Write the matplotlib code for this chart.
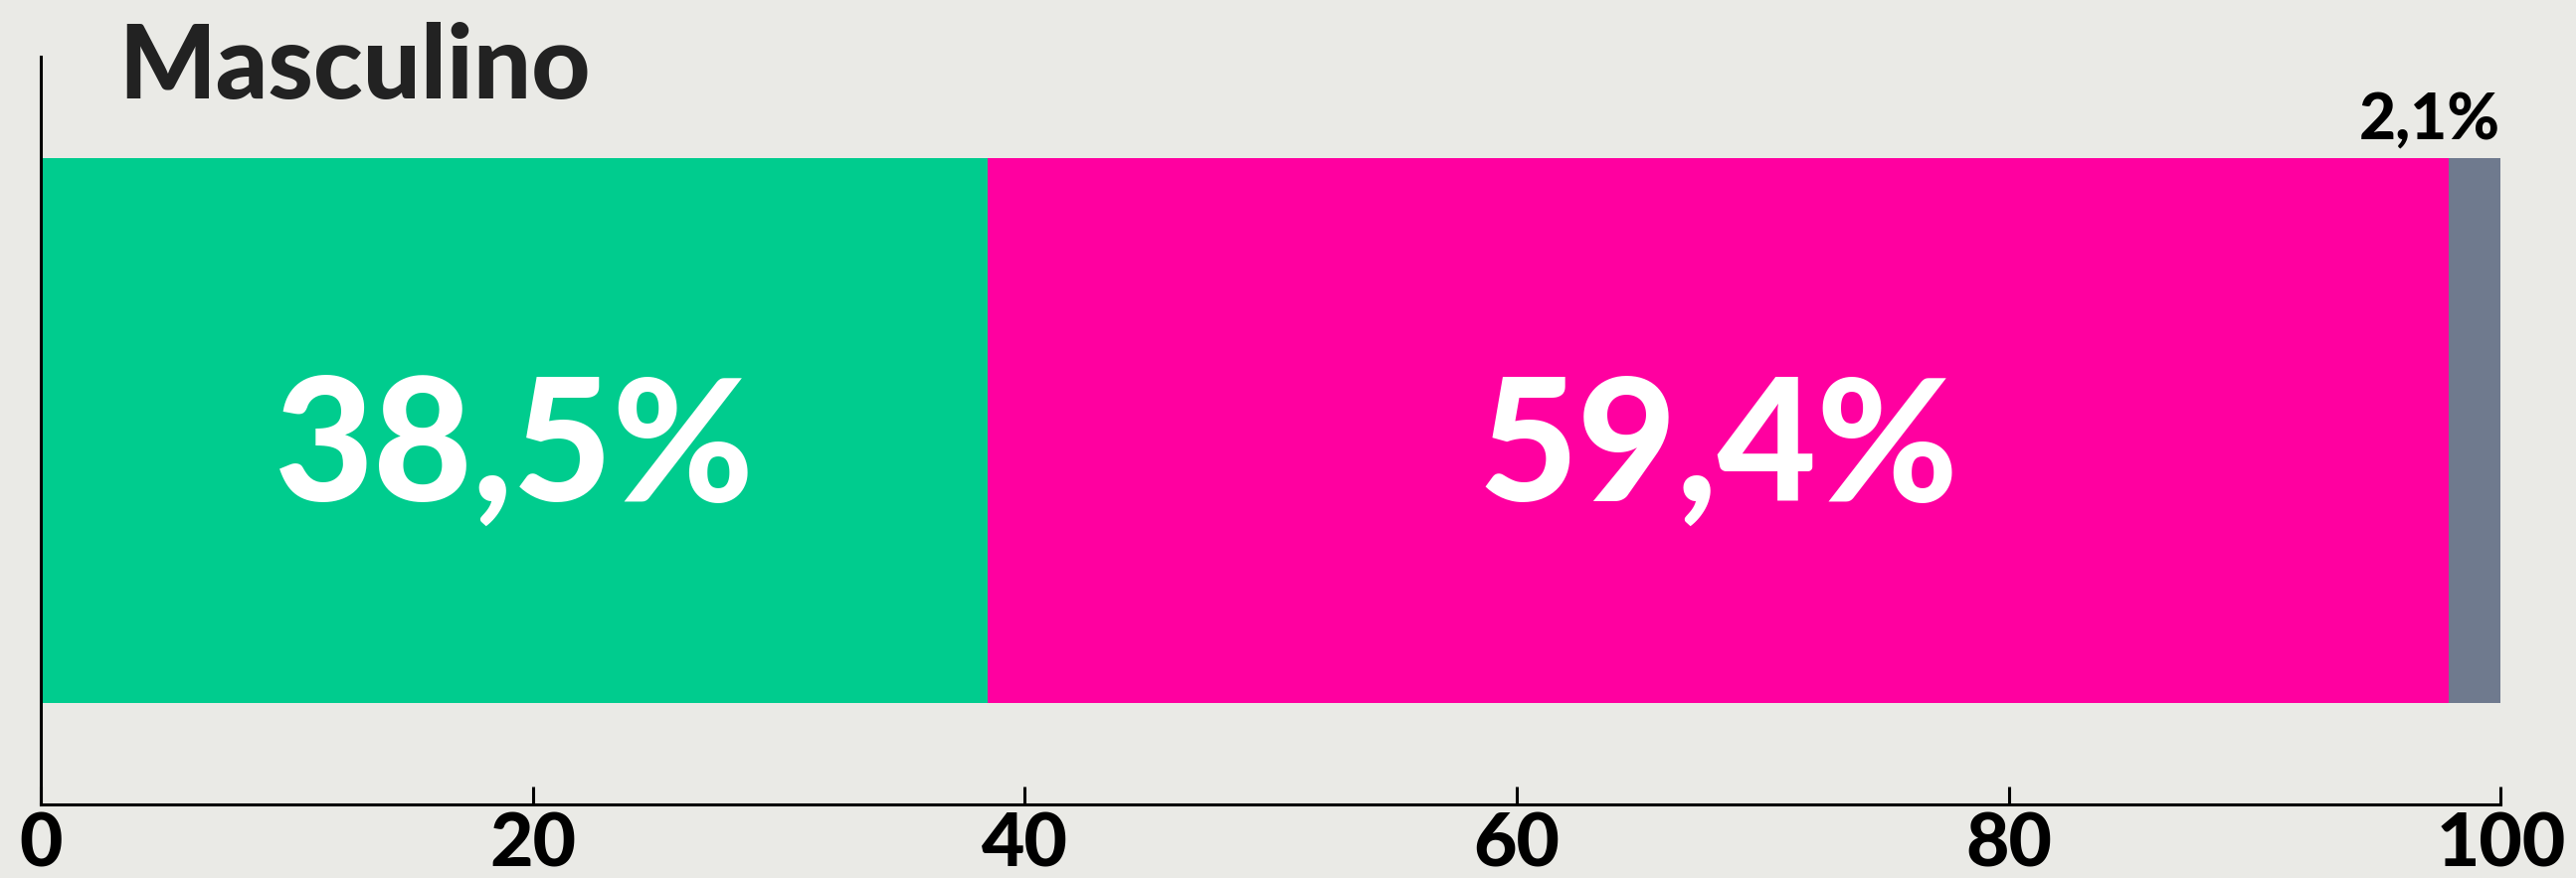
import matplotlib
matplotlib.use("Agg")
import matplotlib.pyplot as plt

# data
group = "Masculino"
shares = [38.5, 59.4, 2.1]
share_labels = ["38,5%", "59,4%", "2,1%"]
colors = ["#00CC8E", "#FF00A0", "#6F7A8E"]
xticks = [0, 20, 40, 60, 80, 100]

BG = "#EAEAE6"
plt.rcParams['font.family'] = ['Lato', 'DejaVu Sans']

fig = plt.figure(figsize=(25.9, 8.83), dpi=100, facecolor=BG)
ax = fig.add_axes([0.0158, 0.0838, 0.955, 0.852])
ax.set_facecolor(BG)

left = 0
for i, (v, c) in enumerate(zip(shares, colors)):
    ax.barh(0.5, v, left=left, height=0.728, color=c, linewidth=0)
    if i < 2:
        ax.text(left + v / 2, 0.406, share_labels[i], ha='center', va='baseline',
                color='white', fontsize=124, fontweight='black')
    else:
        ax.text(left + v, 0.888, share_labels[i], ha='right', va='baseline',
                color='black', fontsize=46, fontweight='black')
    left += v

ax.set_xlim(0, 100)
ax.set_ylim(0, 1)
ax.set_xticks(xticks)
ax.set_xticklabels([str(t) for t in xticks])
ax.set_yticks([])
ax.tick_params(axis='x', direction='in', length=13, width=2.2, pad=5,
               labelsize=54, colors='black')
for lab in ax.get_xticklabels():
    lab.set_fontweight('black')
for s in ['top', 'right']:
    ax.spines[s].set_visible(False)
for s in ['left', 'bottom']:
    ax.spines[s].set_linewidth(2.2)
    ax.spines[s].set_color('black')

fig.text(119 / 2590, 1 - 99 / 883, group, ha='left', va='baseline',
         fontsize=74, fontweight='black', color='#222222')

fig.savefig("out.png", dpi=100, facecolor=BG)
